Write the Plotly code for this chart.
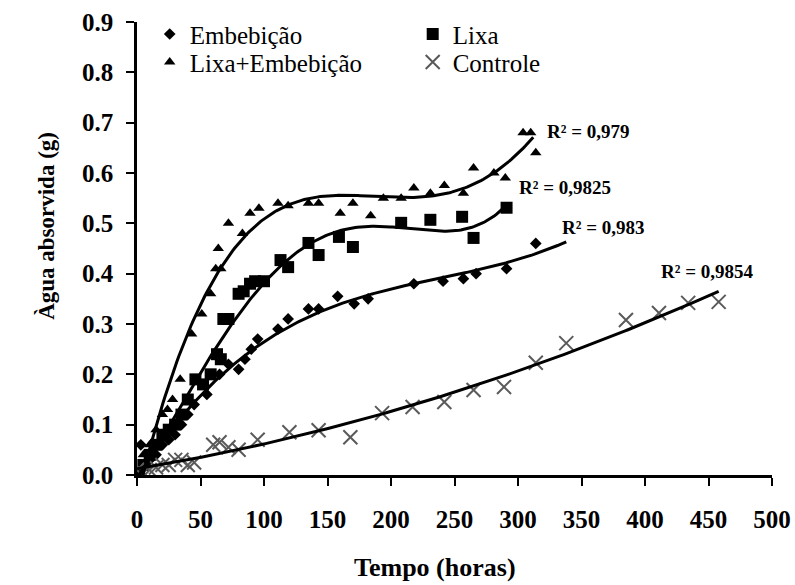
import numpy as np
import plotly.graph_objects as go

# ---------------- data (hours, grams) ----------------
emb_h = [0, 3, 10, 15, 20, 25, 30, 35, 40, 45, 55, 65, 72, 80, 85, 90, 95, 111, 119, 135, 143, 158, 171, 182, 218, 241, 257, 267, 291, 314]
emb_v = [0.0, 0.06, 0.03, 0.04, 0.06, 0.07, 0.08, 0.10, 0.12, 0.14, 0.16, 0.20, 0.22, 0.21, 0.23, 0.25, 0.27, 0.29, 0.31, 0.33, 0.33, 0.355, 0.34, 0.35, 0.38, 0.385, 0.39, 0.40, 0.41, 0.46]

lixa_h = [0, 5, 10, 15, 20, 25, 30, 35, 40, 46, 52, 58, 63, 66, 68, 72, 80, 84, 89, 93, 100, 113, 119, 135, 143, 159, 170, 208, 231, 256, 265, 291]
lixa_v = [0.0, 0.02, 0.04, 0.06, 0.08, 0.09, 0.10, 0.12, 0.15, 0.19, 0.18, 0.20, 0.24, 0.23, 0.31, 0.31, 0.36, 0.365, 0.38, 0.385, 0.385, 0.427, 0.413, 0.461, 0.437, 0.473, 0.453, 0.501, 0.507, 0.513, 0.471, 0.531]

le_h = [0, 5, 10, 15, 20, 24, 28, 34, 43, 51, 58, 62, 64, 66, 72, 83, 89, 96, 111, 119, 135, 143, 160, 170, 184, 194, 208, 218, 231, 242, 257, 265, 281, 290, 304, 310, 314]
le_v = [0.0, 0.04, 0.06, 0.09, 0.12, 0.13, 0.15, 0.19, 0.28, 0.32, 0.36, 0.41, 0.45, 0.41, 0.50, 0.48, 0.52, 0.53, 0.54, 0.535, 0.54, 0.54, 0.52, 0.54, 0.515, 0.55, 0.55, 0.57, 0.56, 0.575, 0.56, 0.61, 0.60, 0.59, 0.68, 0.68, 0.64]

ctl_h = [0, 5, 10, 15, 20, 25, 30, 35, 40, 45, 60, 65, 72, 80, 95, 120, 143, 168, 193, 217, 242, 265, 289, 314, 338, 385, 411, 434, 458]
ctl_v = [0.01, 0.005, 0.01, 0.015, 0.02, 0.02, 0.03, 0.03, 0.02, 0.025, 0.06, 0.065, 0.055, 0.05, 0.07, 0.085, 0.089, 0.075, 0.123, 0.135, 0.145, 0.169, 0.175, 0.223, 0.262, 0.308, 0.322, 0.342, 0.344]

series_names = ["Embebição", "Lixa", "Lixa+Embebição", "Controle"]
r2_labels = ["R² = 0,983", "R² = 0,9825", "R² = 0,979", "R² = 0,9854"]
trend_deg = [3, 4, 4, 2]
trend_end = [338, 290, 312, 458]
r2_pos_h = [333, 299, 321, 411]
r2_pos_v = [0.491, 0.571, 0.682, 0.404]

x_ticks = list(range(0, 501, 50))
y_ticks = [round(0.1 * i, 1) for i in range(10)]

SERIF = "Liberation Serif, Times New Roman, Times, serif"

hs = [emb_h, lixa_h, le_h, ctl_h]
vs = [emb_v, lixa_v, le_v, ctl_v]
markers = [
    dict(symbol="diamond", size=9, color="black"),
    dict(symbol="square", size=12, color="black"),
    dict(symbol="triangle-up", size=10, color="black"),
    dict(symbol="x-thin", size=14, color="#5a5a5a", line=dict(color="#5a5a5a", width=2)),
]
legends = ["legend", "legend", "legend2", "legend2"]

fig = go.Figure()
for i in range(4):
    fig.add_trace(go.Scatter(
        x=hs[i], y=vs[i], mode="markers", name=series_names[i],
        marker=markers[i], legend=legends[i],
    ))
for i in range(4):
    coef = np.polyfit(hs[i], vs[i], trend_deg[i])
    xs = np.linspace(0, trend_end[i], 200)
    fig.add_trace(go.Scatter(
        x=xs, y=np.polyval(coef, xs), mode="lines",
        line=dict(color="black", width=3), showlegend=False, hoverinfo="skip",
    ))

annotations = []
for i in range(4):
    annotations.append(dict(
        x=r2_pos_h[i], y=r2_pos_v[i], xref="x", yref="y", text=r2_labels[i],
        showarrow=False, xanchor="left", yanchor="middle",
        font=dict(family=SERIF, size=19, color="black", weight="bold"),
    ))
annotations.append(dict(
    x=0.469, y=-0.205, xref="paper", yref="paper", text="Tempo (horas)",
    showarrow=False, xanchor="center", yanchor="middle",
    font=dict(family=SERIF, size=26, color="black", weight="bold"),
))
annotations.append(dict(
    x=-0.1417, y=0.55, xref="paper", yref="paper", text="Àgua absorvida (g)",
    showarrow=False, xanchor="center", yanchor="middle", textangle=-90,
    font=dict(family=SERIF, size=23, color="black", weight="bold"),
))

axis_common = dict(
    showgrid=False, zeroline=False, showline=True, linecolor="black", linewidth=2.5,
    ticks="outside", ticklen=8, tickwidth=2, tickcolor="black",
    tickfont=dict(family=SERIF, size=25, color="black", weight="bold"),
)

legend_font = dict(family=SERIF, size=25, color="black")

fig.update_layout(
    width=795, height=585,
    margin=dict(l=137, r=23, t=22, b=110, autoexpand=False),
    paper_bgcolor="white", plot_bgcolor="white",
    font=dict(family=SERIF),
    xaxis=dict(range=[0, 500], tickvals=x_ticks, ticklabelstandoff=12, **axis_common),
    yaxis=dict(range=[0, 0.9], tickvals=y_ticks, tickformat=".1f", ticklabelstandoff=8, **axis_common),
    legend=dict(orientation="h", x=0.02, y=0.973, xanchor="left", yanchor="middle",
                entrywidth=218, font=legend_font,
                bgcolor="rgba(0,0,0,0)", itemsizing="trace"),
    legend2=dict(orientation="h", x=0.02, y=0.911, xanchor="left", yanchor="middle",
                 entrywidth=218, font=legend_font,
                 bgcolor="rgba(0,0,0,0)", itemsizing="trace"),
    annotations=annotations,
    showlegend=True,
)

fig.write_html("out.html")
